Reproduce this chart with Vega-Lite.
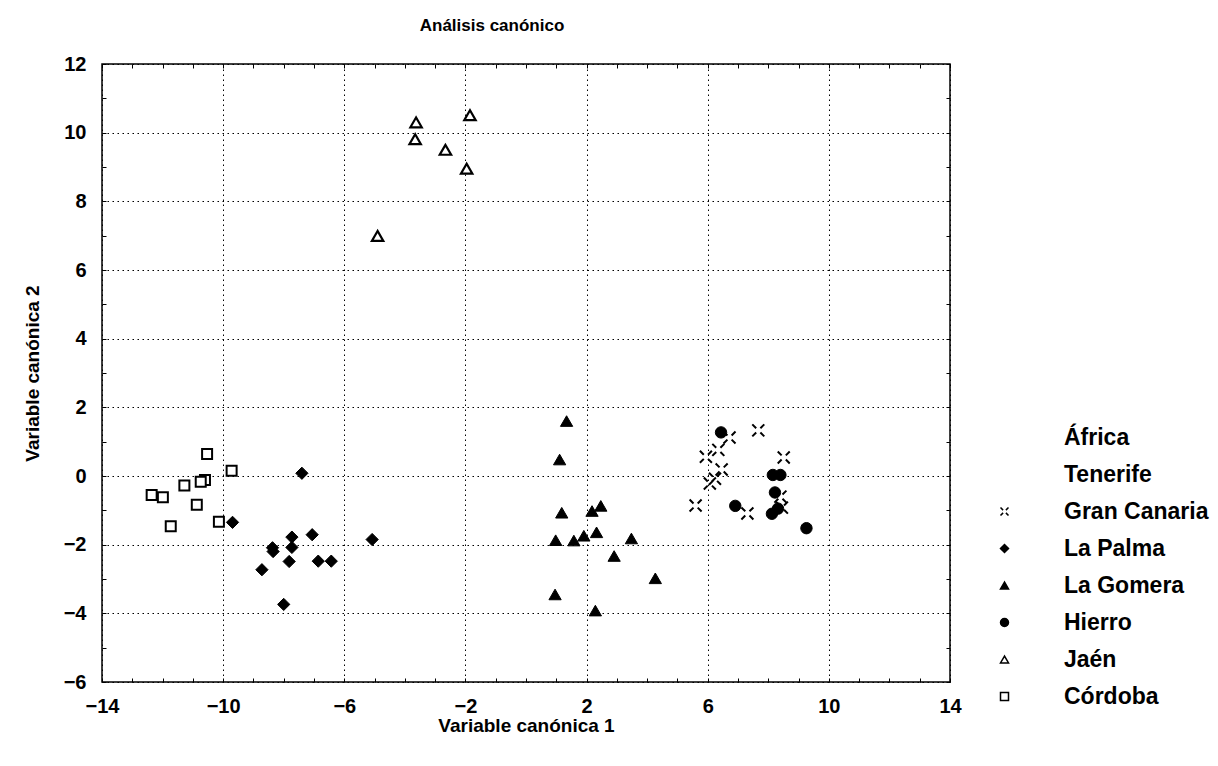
{
  "$schema": "https://vega.github.io/schema/vega-lite/v6.json",
  "width": 848,
  "height": 618,
  "padding": {"left": 23, "top": 17, "right": 5, "bottom": 5},
  "background": "white",
  "title": {"text": "Análisis canónico", "font": "Liberation Sans", "fontSize": 17, "fontWeight": "bold", "color": "black", "offset": 19, "dx": -34},
  "config": {
    "view": {"stroke": "black", "strokeWidth": 1.5},
    "axis": {"labelFont": "Liberation Sans", "labelFontWeight": "bold", "labelFontSize": 20, "labelColor": "black", "titleFont": "Liberation Sans", "titleFontWeight": "bold", "titleFontSize": 19, "titleColor": "black", "domain": false, "tickColor": "black", "tickSize": -4, "labelOverlap": false, "labelBound": false, "labelFlush": false},
    "legend": {"orient": "none", "legendX": 891, "legendY": 362, "title": null, "labelFont": "Liberation Sans", "labelFontWeight": "bold", "labelFontSize": 23, "labelColor": "black", "labelOffset": 48, "rowPadding": 13, "symbolSize": 64, "symbolStrokeWidth": 1.5, "symbolStrokeColor": "black", "labelLimit": 400}
  },
  "data": {"values": [
    {"g": "Gran Canaria", "x": 7.67, "y": 1.33},
    {"g": "Gran Canaria", "x": 6.72, "y": 1.12},
    {"g": "Gran Canaria", "x": 8.51, "y": 0.54},
    {"g": "Gran Canaria", "x": 6.35, "y": 0.76},
    {"g": "Gran Canaria", "x": 5.94, "y": 0.56},
    {"g": "Gran Canaria", "x": 6.46, "y": 0.19},
    {"g": "Gran Canaria", "x": 6.24, "y": -0.08},
    {"g": "Gran Canaria", "x": 6.07, "y": -0.22},
    {"g": "Gran Canaria", "x": 5.6, "y": -0.86},
    {"g": "Gran Canaria", "x": 7.31, "y": -1.09},
    {"g": "Gran Canaria", "x": 8.4, "y": -0.6},
    {"g": "Gran Canaria", "x": 8.45, "y": -0.92},
    {"g": "La Palma", "x": -7.4, "y": 0.08},
    {"g": "La Palma", "x": -9.69, "y": -1.35},
    {"g": "La Palma", "x": -7.73, "y": -1.78},
    {"g": "La Palma", "x": -7.06, "y": -1.71},
    {"g": "La Palma", "x": -5.08, "y": -1.85},
    {"g": "La Palma", "x": -7.73, "y": -2.08},
    {"g": "La Palma", "x": -8.37, "y": -2.09},
    {"g": "La Palma", "x": -8.35, "y": -2.2},
    {"g": "La Palma", "x": -7.82, "y": -2.49},
    {"g": "La Palma", "x": -6.86, "y": -2.48},
    {"g": "La Palma", "x": -6.43, "y": -2.48},
    {"g": "La Palma", "x": -8.72, "y": -2.73},
    {"g": "La Palma", "x": -8.0, "y": -3.74},
    {"g": "La Gomera", "x": 1.34, "y": 1.6},
    {"g": "La Gomera", "x": 1.11, "y": 0.48},
    {"g": "La Gomera", "x": 1.18, "y": -1.07},
    {"g": "La Gomera", "x": 2.18, "y": -1.02},
    {"g": "La Gomera", "x": 2.47, "y": -0.87},
    {"g": "La Gomera", "x": 2.33, "y": -1.64},
    {"g": "La Gomera", "x": 1.91, "y": -1.74},
    {"g": "La Gomera", "x": 0.98, "y": -1.87},
    {"g": "La Gomera", "x": 1.58, "y": -1.88},
    {"g": "La Gomera", "x": 3.48, "y": -1.82},
    {"g": "La Gomera", "x": 2.91, "y": -2.33},
    {"g": "La Gomera", "x": 4.27, "y": -2.98},
    {"g": "La Gomera", "x": 0.96, "y": -3.45},
    {"g": "La Gomera", "x": 2.29, "y": -3.92},
    {"g": "Hierro", "x": 6.44, "y": 1.27},
    {"g": "Hierro", "x": 8.15, "y": 0.03},
    {"g": "Hierro", "x": 8.4, "y": 0.03},
    {"g": "Hierro", "x": 8.22, "y": -0.48},
    {"g": "Hierro", "x": 6.91, "y": -0.87},
    {"g": "Hierro", "x": 8.32, "y": -0.95},
    {"g": "Hierro", "x": 8.12, "y": -1.1},
    {"g": "Hierro", "x": 9.26, "y": -1.52},
    {"g": "Jaén", "x": -3.63, "y": 10.3},
    {"g": "Jaén", "x": -3.66, "y": 9.81},
    {"g": "Jaén", "x": -1.85, "y": 10.51},
    {"g": "Jaén", "x": -2.66, "y": 9.5},
    {"g": "Jaén", "x": -1.96, "y": 8.95},
    {"g": "Jaén", "x": -4.9, "y": 6.99},
    {"g": "Córdoba", "x": -10.53, "y": 0.64},
    {"g": "Córdoba", "x": -9.72, "y": 0.15},
    {"g": "Córdoba", "x": -10.6, "y": -0.12},
    {"g": "Córdoba", "x": -10.74, "y": -0.17},
    {"g": "Córdoba", "x": -11.28, "y": -0.28},
    {"g": "Córdoba", "x": -12.36, "y": -0.55},
    {"g": "Córdoba", "x": -11.99, "y": -0.62},
    {"g": "Córdoba", "x": -10.87, "y": -0.84},
    {"g": "Córdoba", "x": -10.14, "y": -1.33},
    {"g": "Córdoba", "x": -11.73, "y": -1.46}
  ]},
  "resolve": {"axis": {"x": "independent", "y": "independent"}},
  "layer": [
    {
      "mark": {"type": "point", "opacity": 1, "strokeOpacity": 1, "fillOpacity": 1},
      "encoding": {
        "x": {"field": "x", "type": "quantitative", "scale": {"domain": [-14, 14], "nice": false, "zero": false},
          "axis": {"orient": "bottom", "title": "Variable canónica 1", "values": [-14,-13,-12,-11,-10,-9,-8,-7,-6,-5,-4,-3,-2,-1,0,1,2,3,4,5,6,7,8,9,10,11,12,13,14],
            "labelExpr": "abs(datum.value % 4) == 2 ? datum.label : ''", "labelPadding": 18, "titlePadding": 0,
            "labelFontWeight": "bold", "titleFontWeight": "bold",
            "grid": true, "gridColor": "black", "gridDash": [1.5, 3.5], "gridWidth": 1,
            "gridOpacity": {"condition": {"test": "abs(datum.value % 4) == 2", "value": 1}, "value": 0}}},
        "y": {"field": "y", "type": "quantitative", "scale": {"domain": [-6, 12], "nice": false, "zero": false},
          "axis": {"orient": "left", "title": "Variable canónica 2", "values": [-6,-5,-4,-3,-2,-1,0,1,2,3,4,5,6,7,8,9,10,11,12],
            "labelExpr": "datum.value % 2 == 0 ? datum.label : ''", "labelPadding": 20, "titlePadding": 21,
            "labelFontWeight": "bold", "titleFontWeight": "bold",
            "grid": true, "gridColor": "black", "gridDash": [1.5, 3.5], "gridWidth": 1,
            "gridOpacity": {"condition": {"test": "datum.value % 2 == 0", "value": 1}, "value": 0}}},
        "size": {"condition": [
            {"test": "datum.g == 'Gran Canaria'", "value": 144},
            {"test": "datum.g == 'La Palma' || datum.g == 'La Gomera'", "value": 150},
            {"test": "datum.g == 'Córdoba'", "value": 100}
          ], "value": 130},
        "strokeWidth": {"condition": [
            {"test": "datum.g == 'Gran Canaria' || datum.g == 'Córdoba'", "value": 2},
            {"test": "datum.g == 'Jaén'", "value": 2.2}
          ], "value": 1},
        "shape": {"field": "g", "type": "nominal",
          "scale": {"domain": ["África", "Tenerife", "Gran Canaria", "La Palma", "La Gomera", "Hierro", "Jaén", "Córdoba"],
            "range": ["M0,0", "M0,0", "M-1,-1L-0.35,-0.35M0.35,0.35L1,1M1,-1L0.35,-0.35M-0.35,0.35L-1,1", "diamond", "triangle-up", "circle", "triangle-up", "square"]}},
        "fill": {"field": "g", "type": "nominal",
          "scale": {"domain": ["África", "Tenerife", "Gran Canaria", "La Palma", "La Gomera", "Hierro", "Jaén", "Córdoba"],
            "range": ["transparent", "transparent", "transparent", "black", "black", "black", "white", "white"]}},
        "stroke": {"field": "g", "type": "nominal",
          "scale": {"domain": ["África", "Tenerife", "Gran Canaria", "La Palma", "La Gomera", "Hierro", "Jaén", "Córdoba"],
            "range": ["black", "black", "black", "black", "black", "black", "black", "black"]}}
      }
    },
    {
      "mark": {"type": "point", "opacity": 0},
      "encoding": {
        "x": {"field": "x", "type": "quantitative",
          "axis": {"orient": "top", "title": null, "labels": false, "grid": false, "values": [-14,-13,-12,-11,-10,-9,-8,-7,-6,-5,-4,-3,-2,-1,0,1,2,3,4,5,6,7,8,9,10,11,12,13,14]}},
        "y": {"field": "y", "type": "quantitative",
          "axis": {"orient": "right", "title": null, "labels": false, "grid": false, "values": [-6,-5,-4,-3,-2,-1,0,1,2,3,4,5,6,7,8,9,10,11,12]}}
      }
    }
  ]
}
